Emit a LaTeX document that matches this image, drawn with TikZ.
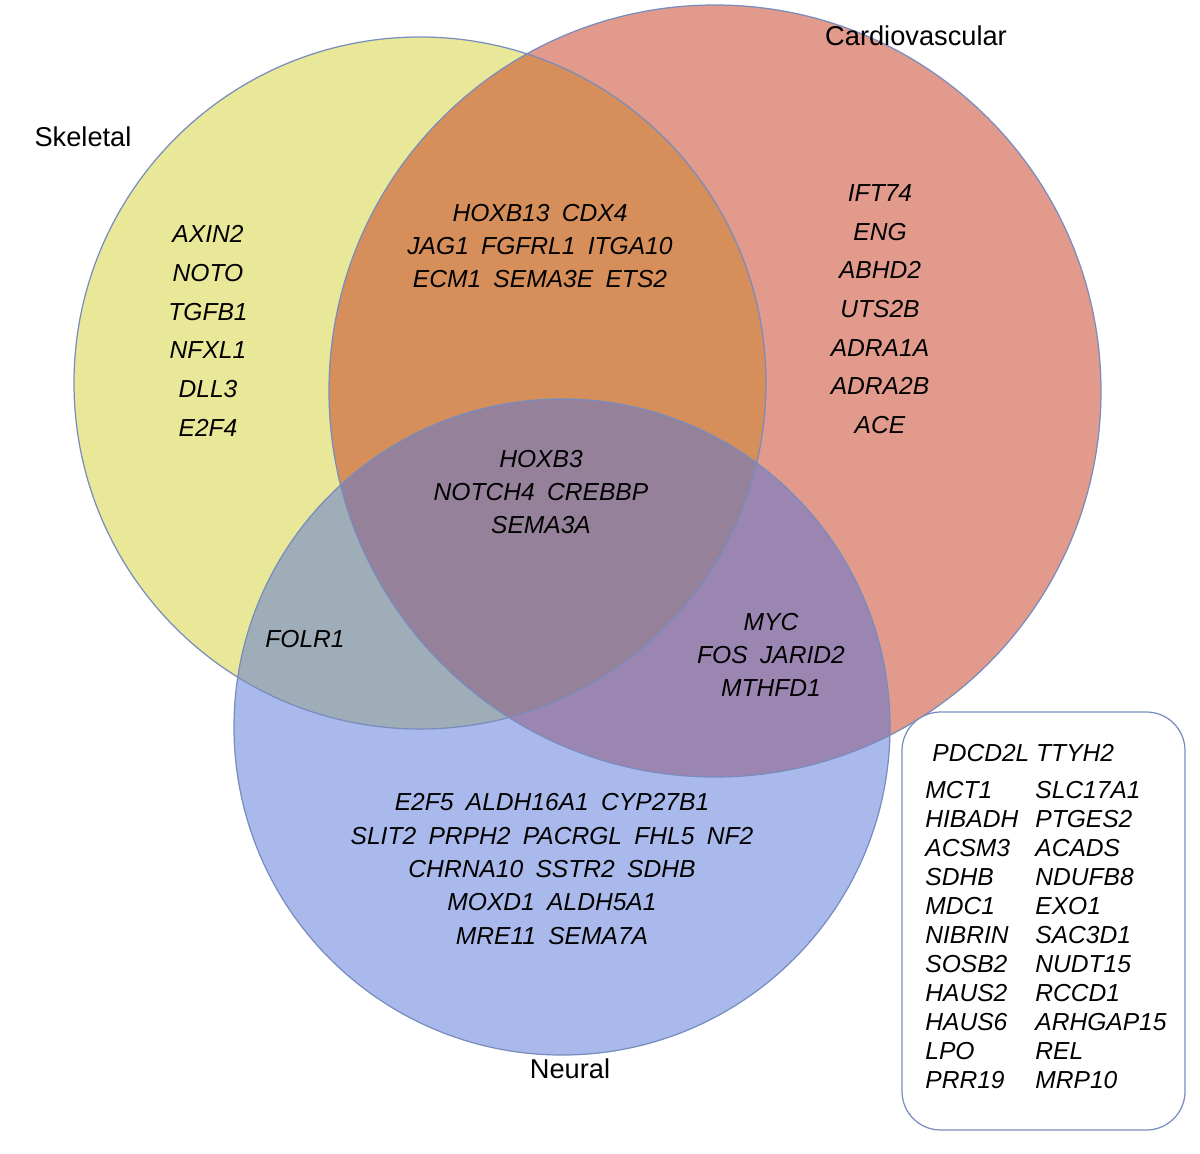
\documentclass[tikz,border=0pt]{standalone}
\usepackage{fontspec}
\setmainfont{Liberation Sans}
\definecolor{yel}{RGB}{232,232,152}
\definecolor{red}{RGB}{198,63,35}
\definecolor{blu}{RGB}{86,116,216}
\definecolor{ringc}{RGB}{120,140,190}
\begin{document}
\begin{tikzpicture}[x=0.02cm,y=-0.02cm,
 g/.style={font=\fontsize{14}{16}\selectfont\itshape,inner sep=0pt,align=center},
 gl/.style={g,anchor=west},
 t/.style={font=\fontsize{15.5}{18}\selectfont,inner sep=0pt},
 ring/.style={draw=ringc,line width=0.7pt}]
\useasboundingbox (0,0) rectangle (1200,1153);
\fill[white] (0,0) rectangle (1200,1153);
\fill[yel] (420,383) circle (346);
\fill[red,opacity=0.52] (715,391) circle (386);
\fill[blu,opacity=0.5] (562,727) circle (328);
\draw[ring] (420,383) circle (346);
\draw[ring] (715,391) circle (386);
\draw[ring] (562,727) circle (328);
\node[t] (sk) at (83,137) {Skeletal};
\node[t] (cv) at (916,36) {Cardiovascular};
\node[t] (ne) at (570,1069) {Neural};
\node[g] (s) at (208,331) {AXIN2\\[6pt]NOTO\\[6pt]TGFB1\\[6pt]NFXL1\\[6pt]DLL3\\[6pt]E2F4};
\node[g] (c) at (880,309) {IFT74\\[6pt]ENG\\[6pt]ABHD2\\[6pt]UTS2B\\[6pt]ADRA1A\\[6pt]ADRA2B\\[6pt]ACE};
\node[g] (sc) at (540,246) {HOXB13\enspace CDX4\\[3pt]JAG1\enspace FGFRL1\enspace ITGA10\\[3pt]ECM1\enspace SEMA3E\enspace ETS2};
\node[g] (all) at (541,492) {HOXB3\\[3pt]NOTCH4\enspace CREBBP\\[3pt]SEMA3A};
\node[g] (sn) at (305,639) {FOLR1};
\node[g] (cn) at (771,655) {MYC\\[3pt]FOS\enspace JARID2\\[3pt]MTHFD1};
\node[g] (n) at (552,869) {E2F5\enspace ALDH16A1\enspace CYP27B1\\[3pt]SLIT2\enspace PRPH2\enspace PACRGL\enspace FHL5\enspace NF2\\[3pt]CHRNA10\enspace SSTR2\enspace SDHB\\[3pt]MOXD1\enspace ALDH5A1\\[3pt]MRE11\enspace SEMA7A};
\draw[ring,fill=white,rounded corners=22pt] (902,712) rectangle (1185,1130);
\node[gl] (p1) at (932,753) {PDCD2L TTYH2};
\foreach \a/\b [count=\i] in {MCT1/SLC17A1,HIBADH/PTGES2,ACSM3/ACADS,SDHB/NDUFB8,MDC1/EXO1,NIBRIN/SAC3D1,SOSB2/NUDT15,HAUS2/RCCD1,HAUS6/ARHGAP15,LPO/REL,PRR19/MRP10}{
 \node[gl] (l\i) at (925,761+29*\i) {\a};
 \node[gl] (r\i) at (1035,761+29*\i) {\b};
}
\end{tikzpicture}
\end{document}
